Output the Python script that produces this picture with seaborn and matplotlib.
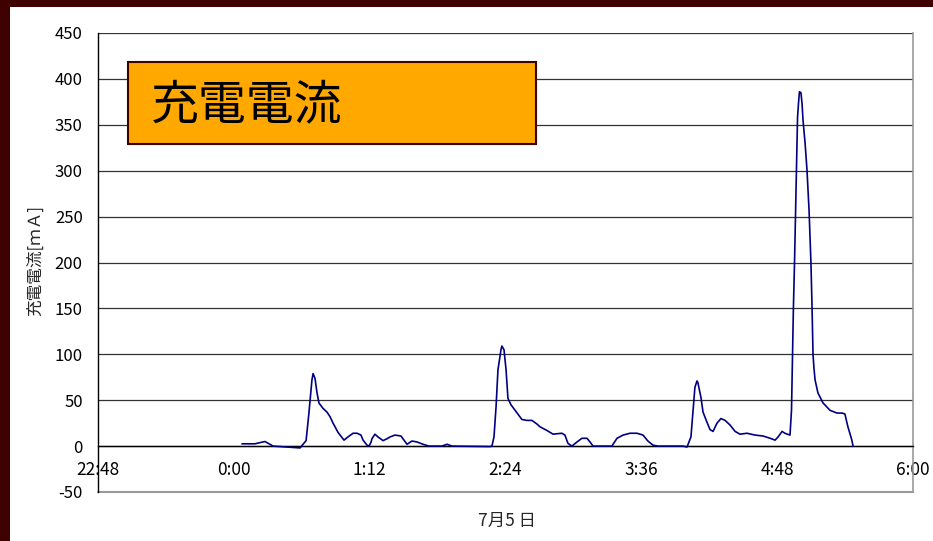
import matplotlib
matplotlib.use("Agg")
import matplotlib.pyplot as plt
import seaborn as sns
import pandas as pd
from matplotlib.patches import Rectangle

# ---- data (time in minutes after 22:48, current in mA) ----
minutes = [76.3, 83.2, 88.5, 92.8, 107.1, 110.3, 111.8, 113.4, 114.0, 115.0,
           116.1, 117.1, 119.3, 121.4, 123.0, 124.6, 127.2, 130.4, 132.5, 135.2,
           137.3, 139.4, 140.5, 142.6, 143.6, 144.7, 145.2, 146.8, 148.4, 151.1,
           153.2, 154.8, 157.4, 160.6, 162.2, 163.8, 166.4, 169.1, 172.3, 175.4,
           182.3, 185.0, 187.6, 207.8, 208.8, 209.9, 211.0, 212.0, 213.6, 214.1,
           215.2, 216.3, 217.3, 218.9, 221.1, 222.6, 224.7, 227.4, 230.0, 232.7,
           234.3, 238.0, 241.2, 245.9, 247.5, 249.1, 251.2, 253.9, 256.5, 259.2,
           260.8, 262.4, 272.4, 275.1, 278.3, 282.0, 285.7, 288.9, 291.5, 294.2,
           296.8, 310.1, 312.2, 314.3, 315.4, 316.4, 317.5, 318.0, 319.6, 320.7,
           322.8, 324.4, 326.0, 328.1, 330.2, 332.4, 335.0, 337.7, 340.3, 344.0,
           348.3, 352.5, 356.3, 358.9, 360.5, 362.6, 364.1, 366.8, 367.6, 368.1,
           368.6, 369.2, 369.7, 370.3, 370.8, 371.3, 371.8, 372.6, 373.2, 373.7,
           374.8, 375.8, 376.9, 377.9, 378.5, 379.0, 379.5, 380.1, 381.6, 384.3,
           388.0, 391.7, 394.4, 395.9, 397.5, 399.6, 400.2]
current_mA = [2.5, 2.5, 5, 0, -2, 6, 36, 72, 79, 74,
              58, 47, 41, 37, 32, 25, 15, 6.5, 10, 14,
              14, 12, 6.5, 1, 0, 4, 8, 13, 10, 6,
              8, 10, 12, 11, 6.5, 2, 5.5, 4.5, 2, 0,
              0, 2, 0, -0.5, 0, 10, 43, 83, 105, 109,
              105, 83, 52, 45, 39, 35, 29, 28, 28, 24,
              21, 17, 13, 14, 12, 3, 0, 4.5, 8.5, 8.5,
              4.5, 0, 0, 8.5, 12, 14, 14, 12, 5.5, 1,
              0, 0, -1, 10, 39, 64, 71, 69, 53, 37,
              26, 18, 16, 25, 30, 28, 23, 16, 13, 14,
              12, 11, 8.5, 6.5, 10, 16, 14, 12, 39, 94,
              150, 200, 250, 312, 358, 373, 386, 385, 373, 355,
              330, 301, 257, 200, 150, 100, 85, 72, 58, 47,
              39, 36, 36, 35, 21, 6.5, 0]

x_tick_minutes = [0, 72, 144, 216, 288, 360, 432]
x_tick_labels = ["22:48", "0:00", "1:12", "2:24", "3:36", "4:48", "6:00"]
y_ticks = [-50, 0, 50, 100, 150, 200, 250, 300, 350, 400, 450]
y_tick_labels = ["-50", "0", "50", "100", "150", "200", "250", "300", "350", "400", "450"]
title_text = "充電電流"
y_label = "充電電流[ｍＡ]"
x_label = "7月5 日"

sns.set_style("white")
plt.rcParams['font.family'] = ['Noto Sans CJK JP', 'DejaVu Sans']

W, H = 933, 541
fig = plt.figure(figsize=(W / 100, H / 100), dpi=100)
fig.patch.set_facecolor("white")

# dark frame bands
fig.patches.append(Rectangle((0, 0), 10 / W, 1, transform=fig.transFigure,
                             fc="#3F0000", ec="none", zorder=0))
fig.patches.append(Rectangle((0, 1 - 7 / H), 1, 7 / H, transform=fig.transFigure,
                             fc="#3F0000", ec="none", zorder=0))

ax = fig.add_axes([98 / W, 1 - 492 / H, 815 / W, 459 / H])
df = pd.DataFrame({"t": minutes, "mA": current_mA})
sns.lineplot(data=df, x="t", y="mA", ax=ax, color="#000080", lw=1.2,
             sort=False, estimator=None, zorder=3)

ax.set_xlim(0, 432)
ax.set_ylim(-50, 450)
ax.set_xticks(x_tick_minutes)
ax.set_xticklabels(x_tick_labels)
ax.set_yticks(y_ticks)
ax.set_yticklabels(y_tick_labels)
ax.set_xlabel("")
ax.set_ylabel("")

ax.yaxis.grid(True, color="#333333", lw=0.9)
ax.xaxis.grid(False)
ax.set_axisbelow(True)

ax.spines["bottom"].set_position(("data", 0))
ax.spines["bottom"].set_color("black")
ax.spines["bottom"].set_linewidth(1.0)
ax.spines["left"].set_color("black")
ax.spines["left"].set_linewidth(1.0)
ax.spines["right"].set_color("#999999")
ax.spines["right"].set_linewidth(1.2)
ax.spines["top"].set_visible(False)
ax.axhline(-50, color="#999999", lw=1.5, clip_on=False, zorder=1)

ax.tick_params(axis="x", direction="in", length=5, width=1, color="black",
               pad=11, labelsize=12.5, labelcolor="black")
ax.tick_params(axis="y", direction="in", length=5, width=1, color="black",
               pad=11, labelsize=12, labelcolor="black")

fig.text(35 / W, 1 - 260 / H, y_label, rotation=90, ha="center", va="center", fontsize=12)
fig.text(507 / W, 1 - 521 / H, x_label, ha="center", va="center", fontsize=12.5)

# title box
fig.patches.append(Rectangle((128 / W, 1 - 144 / H), 408 / W, 82 / H,
                             transform=fig.transFigure, fc="#FFA800",
                             ec="#3F0000", lw=1.5, zorder=5))
fig.text(151 / W, 1 - 106 / H, title_text, ha="left", va="center",
         fontsize=34.5, color="black", zorder=6)

fig.savefig("out.png", dpi=100)
